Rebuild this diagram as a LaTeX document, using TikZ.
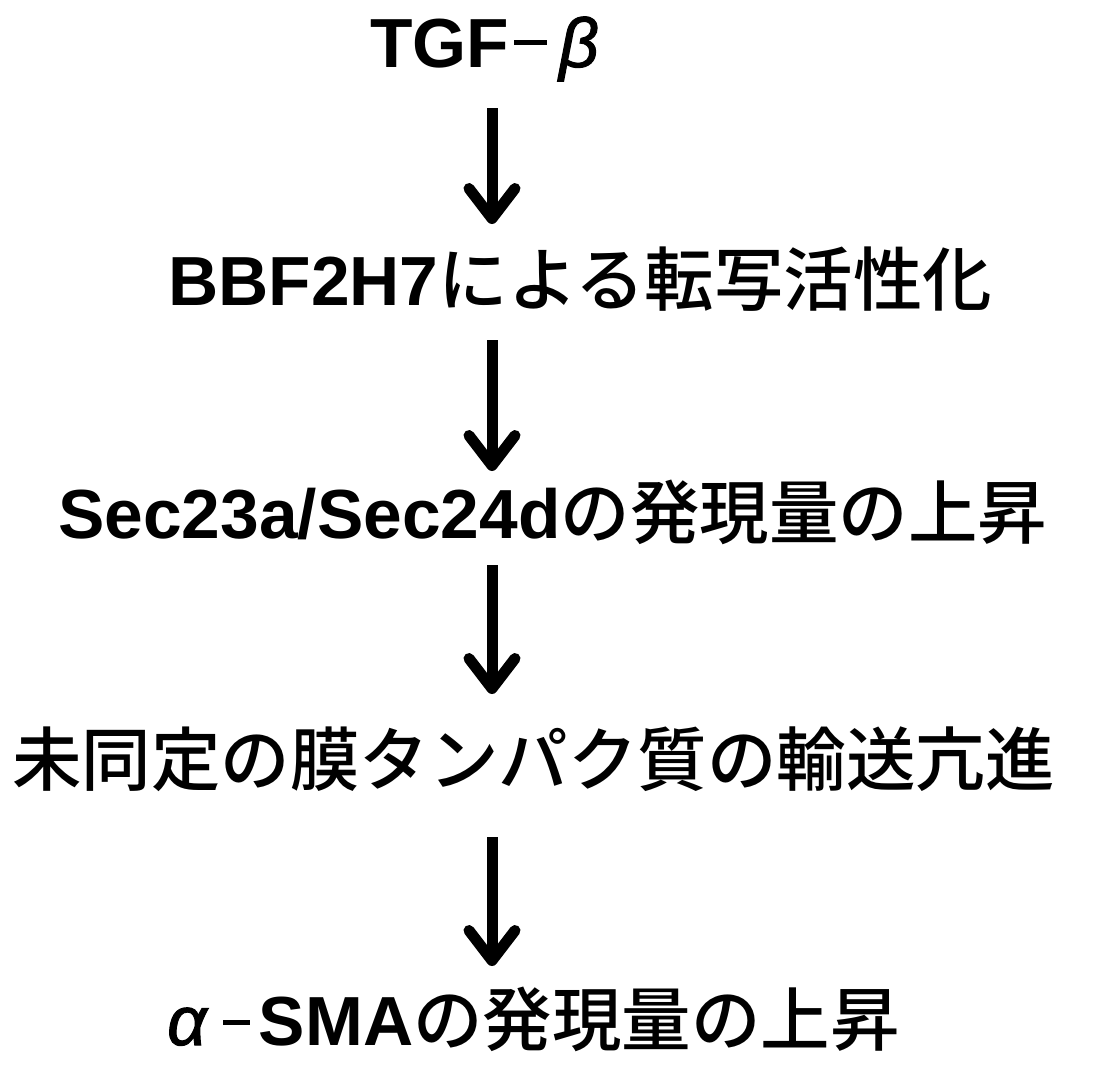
\documentclass[tikz,border=0pt]{standalone}
\usepackage{fontspec}
\setmainfont{Liberation Sans}
\newfontfamily\lat{Liberation Sans Bold}
\newfontfamily\jp{Noto Sans CJK JP Medium}
\newfontfamily\greekit{Liberation Sans Italic}[BoldFont={Liberation Sans Italic},BoldFeatures={FakeBold=1.5}]
\usetikzlibrary{arrows.meta}
\tikzset{
  lbl/.style={anchor=base west, inner sep=0pt, font=\fontsize{69.5}{80}\selectfont},
  arr/.style={line width=11pt, -{Straight Barb[round, length=30pt, width=46pt]}},
}
\newcommand{\gk}[1]{{\greekit\bfseries #1}}
\newcommand{\dsh}[4]{\hspace{#1}\rule[#4]{#3}{5.5pt}\hspace{#2}}
\begin{document}
\begin{tikzpicture}[x=1pt,y=-1pt]
\useasboundingbox (0,0) rectangle (1096,1068);
\node[lbl] (t1) at (370,67) {\lat TGF\dsh{5pt}{12pt}{33pt}{22pt}\gk{β}};
\node[lbl] (t2) at (168,305) {{\lat BBF2H7}{\jp による転写活性化}};
\node[lbl] (t3) at (58,538) {{\lat Sec23a/Sec24d}{\jp の発現量の上昇}};
\node[lbl] (t4) at (12,785) {\jp 未同定の膜タンパク質の輸送亢進};
\node[lbl] (t5) at (167,1045) {\gk{α}\dsh{16pt}{9pt}{27pt}{20pt}{\lat SMA}{\jp の発現量の上昇}};
\coordinate (a1s) at (492,108); \coordinate (a1e) at (492,224);
\coordinate (a2s) at (492,340); \coordinate (a2e) at (492,471);
\coordinate (a3s) at (492,565); \coordinate (a3e) at (492,694);
\coordinate (a4s) at (492,837); \coordinate (a4e) at (492,966);
\draw[arr] (a1s) -- (a1e);
\draw[arr] (a2s) -- (a2e);
\draw[arr] (a3s) -- (a3e);
\draw[arr] (a4s) -- (a4e);
\end{tikzpicture}
\end{document}
